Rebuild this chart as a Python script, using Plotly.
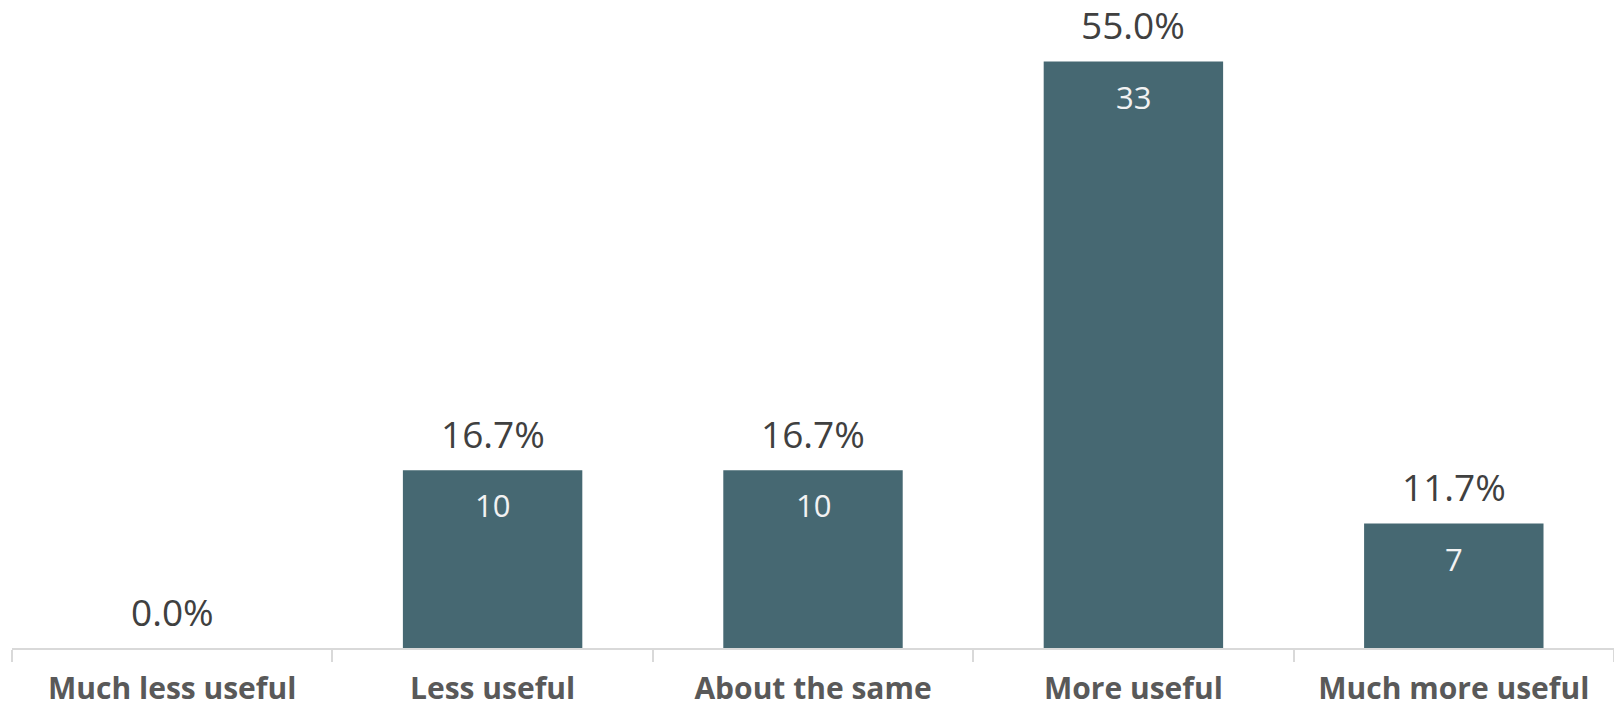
import plotly.graph_objects as go

categories = ["Much less useful", "Less useful", "About the same", "More useful", "Much more useful"]
counts = [0, 10, 10, 33, 7]
percent_labels = ["0.0%", "16.7%", "16.7%", "55.0%", "11.7%"]

bar_color = "#466872"
text_dark = "#404040"

fig = go.Figure()
fig.add_trace(go.Bar(
    x=categories, y=counts,
    marker=dict(color=bar_color, line=dict(width=0)),
    hoverinfo="skip",
))

annotations = []
for cat, c, p in zip(categories, counts, percent_labels):
    annotations.append(dict(
        x=cat, y=c, xref="x", yref="y", text=p, showarrow=False,
        yanchor="middle", yshift=37,
        font=dict(family="Open Sans", size=37, color=text_dark),
    ))
    if c > 0:
        annotations.append(dict(
            x=cat, y=c, xref="x", yref="y", text=str(c), showarrow=False,
            yanchor="middle", yshift=-35,
            font=dict(family="Open Sans", size=31, color="#f2f2f2"),
        ))

fig.update_layout(
    width=1614, height=714,
    margin=dict(l=12, r=0, t=26, b=66, autoexpand=False),
    paper_bgcolor="white", plot_bgcolor="white",
    bargap=0.44,
    showlegend=False,
    annotations=annotations,
    xaxis=dict(
        type="category", automargin=False,
        showline=True, linecolor="#d9d9d9", linewidth=2,
        ticks="outside", tickson="boundaries", ticklen=12, tickcolor="#d9d9d9", tickwidth=2,
        ticklabelstandoff=13,
        tickfont=dict(family="Open Sans", size=30, color="#595959", weight="bold"),
        showgrid=False, zeroline=False,
    ),
    yaxis=dict(
        range=[0, 35], visible=False, showgrid=False, zeroline=False, automargin=False,
    ),
)

fig.write_html("out.html")
